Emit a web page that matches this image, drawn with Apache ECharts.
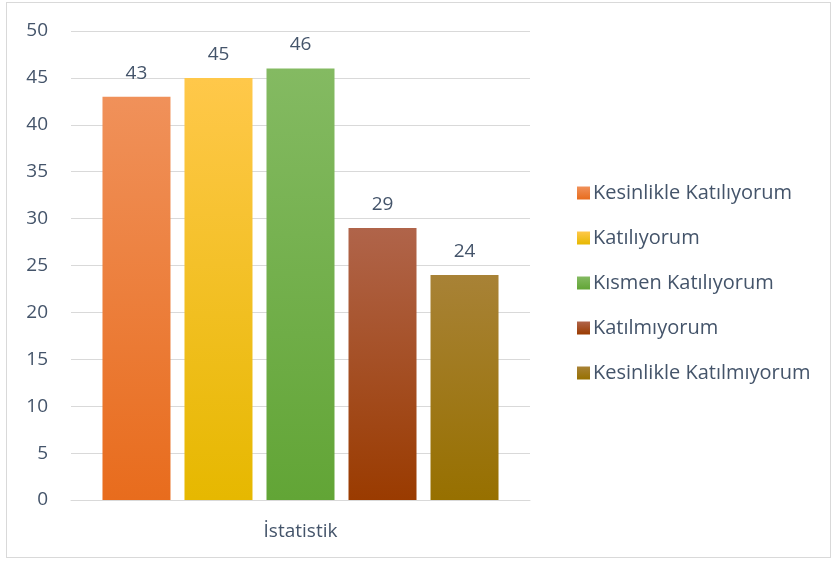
<!DOCTYPE html>
<html>
<head>
<meta charset="utf-8">
<script src="https://cdn.jsdelivr.net/npm/echarts@6/dist/echarts.min.js"></script>
<style>
  html, body { margin: 0; padding: 0; background: #fff; }
  #chart { width: 836px; height: 562px; }
  #frame { position: absolute; left: 6px; top: 2px; width: 823px; height: 554px; border: 1px solid #d9d9d9; pointer-events: none; }
</style>
</head>
<body>
<div id="chart"></div>
<div id="frame"></div>
<script>
'use strict';

// 数据
const categories = ['İstatistik'];
const seriesNames = ['Kesinlikle Katılıyorum', 'Katılıyorum', 'Kısmen Katılıyorum', 'Katılmıyorum', 'Kesinlikle Katılmıyorum'];
const seriesValues = [43, 45, 46, 29, 24];
const topColors = ['#f0915a', '#ffc84a', '#84ba62', '#b0644a', '#a88236'];
const bottomColors = ['#e86c1d', '#e6b800', '#62a536', '#9a3b00', '#977000'];
const yTicks = { min: 0, max: 50, interval: 5 };

const textColor = '#44546a';
const fontFamily = '"Open Sans", "Noto Sans", sans-serif';

function gradient(top, bottom) {
    return new echarts.graphic.LinearGradient(0, 0, 0, 1, [
        { offset: 0, color: top },
        { offset: 1, color: bottom }
    ]);
}

const chart = echarts.init(document.getElementById('chart'));

const series = seriesNames.map((name, idx) => ({
    name: name,
    type: 'bar',
    data: [seriesValues[idx]],
    barWidth: 68,
    barGap: '20.6%',
    itemStyle: { color: gradient(topColors[idx], bottomColors[idx]) },
    label: {
        show: true,
        position: 'top',
        distance: 14,
        color: textColor,
        fontSize: 19,
        fontFamily: fontFamily
    }
}));

const option = {
    animation: false,
    backgroundColor: '#fff',
    grid: { left: 71, right: 306, top: 31, bottom: 62 },
    legend: {
        orient: 'vertical',
        left: 572,
        top: 178,
        itemWidth: 13,
        itemHeight: 13,
        itemGap: 25,
        icon: 'rect',
        textStyle: { color: textColor, fontSize: 20, fontFamily: fontFamily, padding: [0, 0, 0, -2] },
        data: seriesNames
    },
    xAxis: {
        type: 'category',
        data: categories,
        axisLine: { lineStyle: { color: '#d9d9d9', width: 1 } },
        axisTick: { show: false },
        axisLabel: { color: textColor, fontSize: 19, fontFamily: fontFamily, margin: 22 }
    },
    yAxis: {
        type: 'value',
        min: yTicks.min,
        max: yTicks.max,
        interval: yTicks.interval,
        axisLine: { show: false },
        axisTick: { show: false },
        axisLabel: { color: textColor, fontSize: 19, fontFamily: fontFamily, margin: 23 },
        splitLine: { lineStyle: { color: '#d9d9d9', width: 1 } }
    },
    series: series
};

chart.setOption(option);
</script>
</body>
</html>
